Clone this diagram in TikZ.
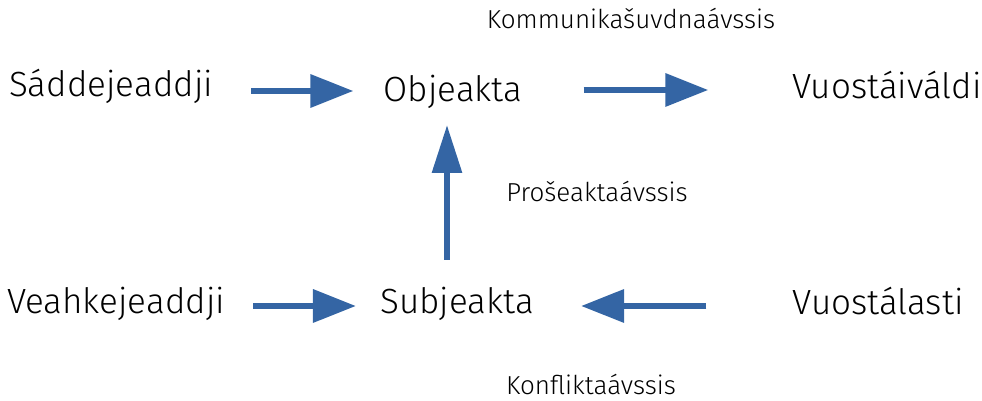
\documentclass[tikz,border=0pt]{standalone}
\usepackage{fontspec}
\setmainfont{Fira Sans Light}
\usetikzlibrary{arrows.meta,calc}
\definecolor{arrblue}{RGB}{52,101,164}
\begin{document}
\begin{tikzpicture}[x=1pt,y=1pt,
  big/.style={font=\fontsize{35}{40}\selectfont, inner sep=0pt, anchor=base, text=black},
  small/.style={font=\fontsize{26}{30}\selectfont, inner sep=0pt, anchor=base, text=black},
  arr/.style={draw=arrblue, line width=6.5pt, -{Triangle[length=43pt,width=32pt]}},
  varr/.style={draw=arrblue, line width=6pt, -{Triangle[length=48pt,width=29pt]}}]
\useasboundingbox (0,0) rectangle (982,401);
\node[big] (sad) at (111,304) {Sáddejeaddji};
\node[big] (obj) at (453,299) {Objeakta};
\node[big] (vuo) at (887,302) {Vuostáiváldi};
\node[big] (vea) at (116,87) {Veahkejeaddji};
\node[big] (sub) at (457,87) {Subjeakta};
\node[big] (vla) at (878,86) {Vuostálasti};
\node[small] (kom) at (631,372) {Kommunikašuvdnaávssis};
\node[small] (pro) at (597,199) {Prošeaktaávssis};
\node[small] (kon) at (591,6) {Konfliktaávssis};
\draw[arr, shorten <=38pt, shorten >=30pt] (sad.east |- 0,310) -- (obj.west |- 0,310);
\draw[arr, shorten <=61pt, shorten >=84pt] (obj.east |- 0,311) -- (vuo.west |- 0,311);
\draw[arr, shorten <=28pt, shorten >=24pt] (vea.east |- 0,95) -- (sub.west |- 0,95);
\draw[arr, shorten <=86pt, shorten >=47pt] (vla.west |- 0,95) -- (sub.east |- 0,95);
\draw[varr] ($(sub.base -| 447,0)+(0,54)$) -- ($(obj.base -| 447,0)+(0,-23)$);
\end{tikzpicture}
\end{document}
